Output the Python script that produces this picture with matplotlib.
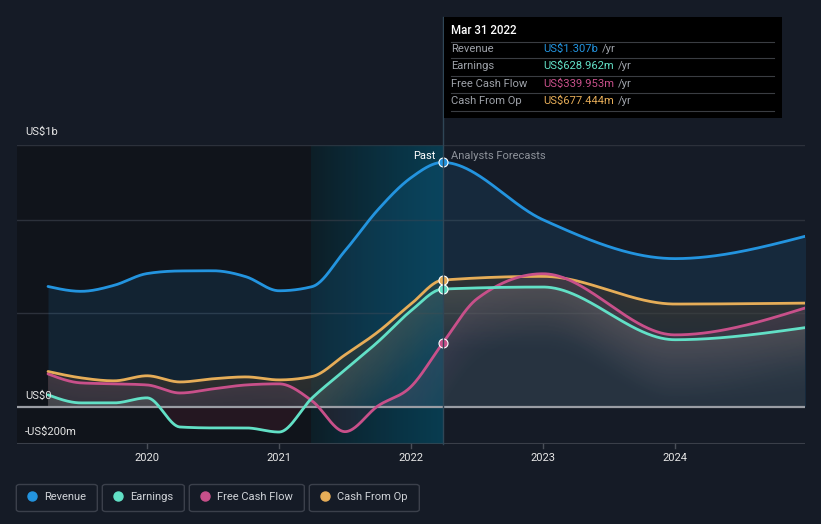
import numpy as np
import matplotlib
matplotlib.use("Agg")
import matplotlib.pyplot as plt
from matplotlib.patches import Rectangle, FancyBboxPatch
from matplotlib.lines import Line2D

plt.rcParams['font.family'] = ['Roboto', 'DejaVu Sans']

# ---------------- data (US$ millions) ----------------
past_dates = [2019.25, 2019.5, 2019.75, 2020.0, 2020.25, 2020.5, 2020.75,
              2021.0, 2021.25, 2021.5, 2021.75, 2022.0, 2022.24]
fc_dates = [2023.0, 2024.0, 2025.0]

revenue_past = [643, 617, 649, 712, 726, 727, 695, 620, 642, 834, 1054, 1225, 1307]
revenue_fc = [1000, 792, 914]

earnings_past = [63, 20, 20, 47, -109, -114, -114, -136, 46, 197, 347, 513, 629]
earnings_fc = [640, 358, 424]

fcf_past = [175, 127, 122, 116, 73, 95, 116, 122, 31, -134, 4, 107, 340]
fcf_fc_dates = [2022.5, 2023.0, 2024.0, 2025.0]
fcf_fc = [577, 711, 384, 531]

cfo_past = [188, 154, 138, 165, 132, 149, 159, 143, 161, 277, 400, 549, 677]
cfo_fc = [697, 549, 554]

series_names = ["Revenue", "Earnings", "Free Cash Flow", "Cash From Op"]
series_colors = ["#2394df", "#62e0c6", "#c8508a", "#e6ad58"]
tooltip_date = "Mar 31 2022"
tooltip_values = ["US$1.307b", "US$628.962m", "US$339.953m", "US$677.444m"]
x_ticks = [2020, 2021, 2022, 2023, 2024]
now_x = 2022.24
forecast_start = 2021.24

# ---------------- helpers ----------------
W, H = 821, 524
BG = "#151b26"


def fx(px):
    return px / W


def fy(py):
    return 1 - py / H


def monotone_x(x, y, xs):
    """d3 curveMonotoneX style interpolation."""
    x = np.asarray(x, float)
    y = np.asarray(y, float)
    h = np.diff(x)
    s = np.diff(y) / h
    n = len(x)
    m = np.zeros(n)
    for k in range(1, n - 1):
        h0, h1 = h[k - 1], h[k]
        s0, s1 = s[k - 1], s[k]
        p = (s0 * h1 + s1 * h0) / (h0 + h1)
        m[k] = (np.sign(s0) + np.sign(s1)) * min(abs(s0), abs(s1), 0.5 * abs(p))
    m[0] = (3 * s[0] - m[1]) / 2
    m[-1] = (3 * s[-1] - m[-2]) / 2
    xs = np.asarray(xs, float)
    idx = np.clip(np.searchsorted(x, xs) - 1, 0, n - 2)
    t = (xs - x[idx]) / h[idx]
    h00 = 2 * t**3 - 3 * t**2 + 1
    h10 = t**3 - 2 * t**2 + t
    h01 = -2 * t**3 + 3 * t**2
    h11 = t**3 - t**2
    return (h00 * y[idx] + h10 * h[idx] * m[idx] + h01 * y[idx + 1]
            + h11 * h[idx] * m[idx + 1])


fig = plt.figure(figsize=(W / 100, H / 100), dpi=100, facecolor=BG)
AX_L, AX_R, AX_T, AX_B = 17, 805, 145, 444
ax = fig.add_axes([fx(AX_L), fy(AX_B), fx(AX_R) - fx(AX_L), fy(AX_T) - fy(AX_B)])
ax.set_facecolor(BG)
XMIN, XMAX = 2019.015, 2024.985
YMIN, YMAX = -200, 1400
ax.set_xlim(XMIN, XMAX)
ax.set_ylim(YMIN, YMAX)
for sp in ax.spines.values():
    sp.set_visible(False)
ax.set_xticks([])
ax.set_yticks([])

# background regions
ax.axvspan(XMIN, forecast_start, color="#10141b", zorder=0, lw=0)
grad = np.linspace(0, 1, 256).reshape(1, -1)
c0 = np.array([0x0e, 0x1c, 0x24]) / 255
c1 = np.array([0x0b, 0x33, 0x46]) / 255
img = c0[None, None, :] * (1 - grad[..., None]) + c1[None, None, :] * grad[..., None]
ax.imshow(img, extent=[forecast_start, now_x, YMIN, YMAX], aspect="auto", zorder=0.5)

# grid lines
for gv in [500, 1000, 1400]:
    ax.axhline(gv, color="#2c313b", lw=1.0, zorder=1)
ax.axhline(-200, color="#3a3f49", lw=1.5, zorder=1)

xs = np.linspace(2019.25, 2025.0, 900)


def curve_at(px_dates, pvals, fdates, fvals, xq):
    d = list(px_dates) + list(fdates)
    v = list(pvals) + list(fvals)
    return monotone_x(d, v, xq)


rev = curve_at(past_dates, revenue_past, fc_dates, revenue_fc, xs)
ear = curve_at(past_dates, earnings_past, fc_dates, earnings_fc, xs)
fcf = curve_at(past_dates, fcf_past, fcf_fc_dates, fcf_fc, xs)
cfo = curve_at(past_dates, cfo_past, fc_dates, cfo_fc, xs)

# revenue fill
ax.fill_between(xs, 0, rev, color="#2394df", alpha=0.12, lw=0, zorder=2)

# gradient fills for other series (image based)
NX, NY = (AX_R - AX_L) * 2, (AX_B - AX_T) * 2
gx = np.linspace(XMIN, XMAX, NX)
gy = np.linspace(YMIN, YMAX, NY)
valid = (gx >= 2019.25) & (gx <= 2025.0)


def grad_fill(pd_, pv, fd, fv, rgb, amax, zo, D=450.0, fmin=0.25):
    cv = curve_at(pd_, pv, fd, fv, np.clip(gx, 2019.25, 2025.0))
    Y = gy[:, None]
    C = cv[None, :]
    pos = (Y >= 0) & (Y <= C) & valid[None, :]
    neg = (Y < 0) & (Y >= C) & valid[None, :]
    f = np.clip(1 - (C - Y) / D, fmin, 1)
    rgba = np.zeros((NY, NX, 4))
    rgba[..., 0] = rgb[0] / 255
    rgba[..., 1] = rgb[1] / 255
    rgba[..., 2] = rgb[2] / 255
    rgba[..., 3] = np.where(pos, amax * f, 0)
    ax.imshow(rgba, extent=[XMIN, XMAX, YMIN, YMAX], origin="lower", aspect="auto",
              interpolation="nearest", zorder=zo)
    neg_rgba = np.zeros((NY, NX, 4))
    neg_rgba[..., 0] = 200 / 255
    neg_rgba[..., 1] = 55 / 255
    neg_rgba[..., 2] = 85 / 255
    neg_rgba[..., 3] = np.where(neg, 0.11, 0)
    ax.imshow(neg_rgba, extent=[XMIN, XMAX, YMIN, YMAX], origin="lower", aspect="auto",
              interpolation="nearest", zorder=zo)


grad_fill(past_dates, cfo_past, fc_dates, cfo_fc, (71, 58, 43), 0.5, 2.1)
grad_fill(past_dates, fcf_past, fcf_fc_dates, fcf_fc, (110, 80, 108), 0.3, 2.2)
grad_fill(past_dates, earnings_past, fc_dates, earnings_fc, (120, 128, 124), 0.3, 2.3)

# light teal overlay on past highlight
ov = np.zeros((1, 256, 4))
ov[..., 0] = 0.0
ov[..., 1] = 0.35
ov[..., 2] = 0.45
ov[..., 3] = np.linspace(0.05, 0.25, 256)
ax.imshow(ov, extent=[forecast_start, now_x, YMIN, YMAX], aspect="auto", zorder=2.5)

# zero line
ax.axhline(0, color="#9a9da4", lw=1.6, zorder=3)

# lines
for c, col in zip([rev, cfo, fcf, ear],
                  [series_colors[0], series_colors[3], series_colors[2], series_colors[1]]):
    ax.plot(xs, c, color=col, lw=2.0, zorder=4, solid_capstyle="round")

# markers at now
now_vals = [revenue_past[-1], earnings_past[-1], fcf_past[-1], cfo_past[-1]]
for v, col in zip(now_vals, series_colors):
    ax.plot([now_x], [v], "o", ms=6.5, mfc=col, mec="white", mew=0.8, zorder=6)

# vertical now line (extends up to tooltip)
nx_px = AX_L + (now_x - XMIN) / (XMAX - XMIN) * (AX_R - AX_L)
fig.add_artist(Line2D([fx(nx_px), fx(nx_px)], [fy(AX_B), fy(17)], color="#2f4656", lw=1.0,
                      zorder=1))

# tooltip
fig.add_artist(Rectangle((fx(444), fy(118)), fx(782) - fx(444), fy(17) - fy(118),
                         facecolor="black", edgecolor="none", zorder=10))
fig.text(fx(451), fy(31), tooltip_date, color="white", fontsize=8.3, va="center", ha="left",
         fontweight="medium", zorder=11)
row_y = [49, 66, 84, 101]
for yy in [41.5, 58.3, 76, 93.3, 111]:
    fig.add_artist(Line2D([fx(451), fx(774)], [fy(yy), fy(yy)], color="#3a3d42", lw=0.8,
                          zorder=11))
for name, val, col, yy in zip(series_names, tooltip_values, series_colors, row_y):
    fig.text(fx(451), fy(yy), name, color="#9ea2a9", fontsize=8.1, va="center", ha="left",
             zorder=11)
    t = fig.text(fx(543), fy(yy), val, color=col, fontsize=8.1, va="center", ha="left",
                 zorder=11)
    fig.canvas.draw()
    bb = t.get_window_extent()
    fig.text(bb.x1 / W + fx(4), fy(yy), "/yr", color="#9ea2a9", fontsize=8.1, va="center",
             ha="left", zorder=11)

# Past / Analysts Forecasts
fig.text(fx(435), fy(156), "Past", color="white", fontsize=8, ha="right", va="center", zorder=7)
fig.text(fx(451), fy(156), "Analysts Forecasts", color="#8d929a", fontsize=8, ha="left",
         va="center", zorder=7)

# y labels
fig.text(fx(25), fy(132), "US$1b", color="#e6e6e6", fontsize=8, ha="left", va="center")
fig.text(fx(25), fy(396), "US$0", color="#e6e6e6", fontsize=8, ha="left", va="center")
fig.text(fx(25), fy(432), "-US$200m", color="#e6e6e6", fontsize=8, ha="left", va="center")

# x ticks
for xt in x_ticks:
    px = AX_L + (xt - XMIN) / (XMAX - XMIN) * (AX_R - AX_L)
    fig.add_artist(Line2D([fx(px), fx(px)], [fy(AX_B), fy(448)], color="#4a4f59", lw=1))
    fig.text(fx(px), fy(458), str(xt), color="#e6e6e6", fontsize=8, ha="center", va="center")

# legend
boxes = [(16.3, 97.3), (102.3, 184.3), (189.3, 304.3), (309.3, 419.3)]
for (x0, x1), name, col in zip(boxes, series_names, series_colors):
    fig.add_artist(FancyBboxPatch((fx(x0), fy(511.5)), fx(x1) - fx(x0), fy(484.5) - fy(511.5),
                                  boxstyle="round,pad=0,rounding_size=0.004",
                                  facecolor="none", edgecolor="#3b404b", lw=1.0))
    fig.add_artist(Line2D([fx(x0 + 15.5)], [fy(496)], marker="o", ms=6.5, color=col, mec=col))
    fig.text(fx(x0 + 28), fy(496.5), name, color="#d0d3d8", fontsize=8, ha="left", va="center")

fig.savefig("out.png", dpi=100, facecolor=BG)
